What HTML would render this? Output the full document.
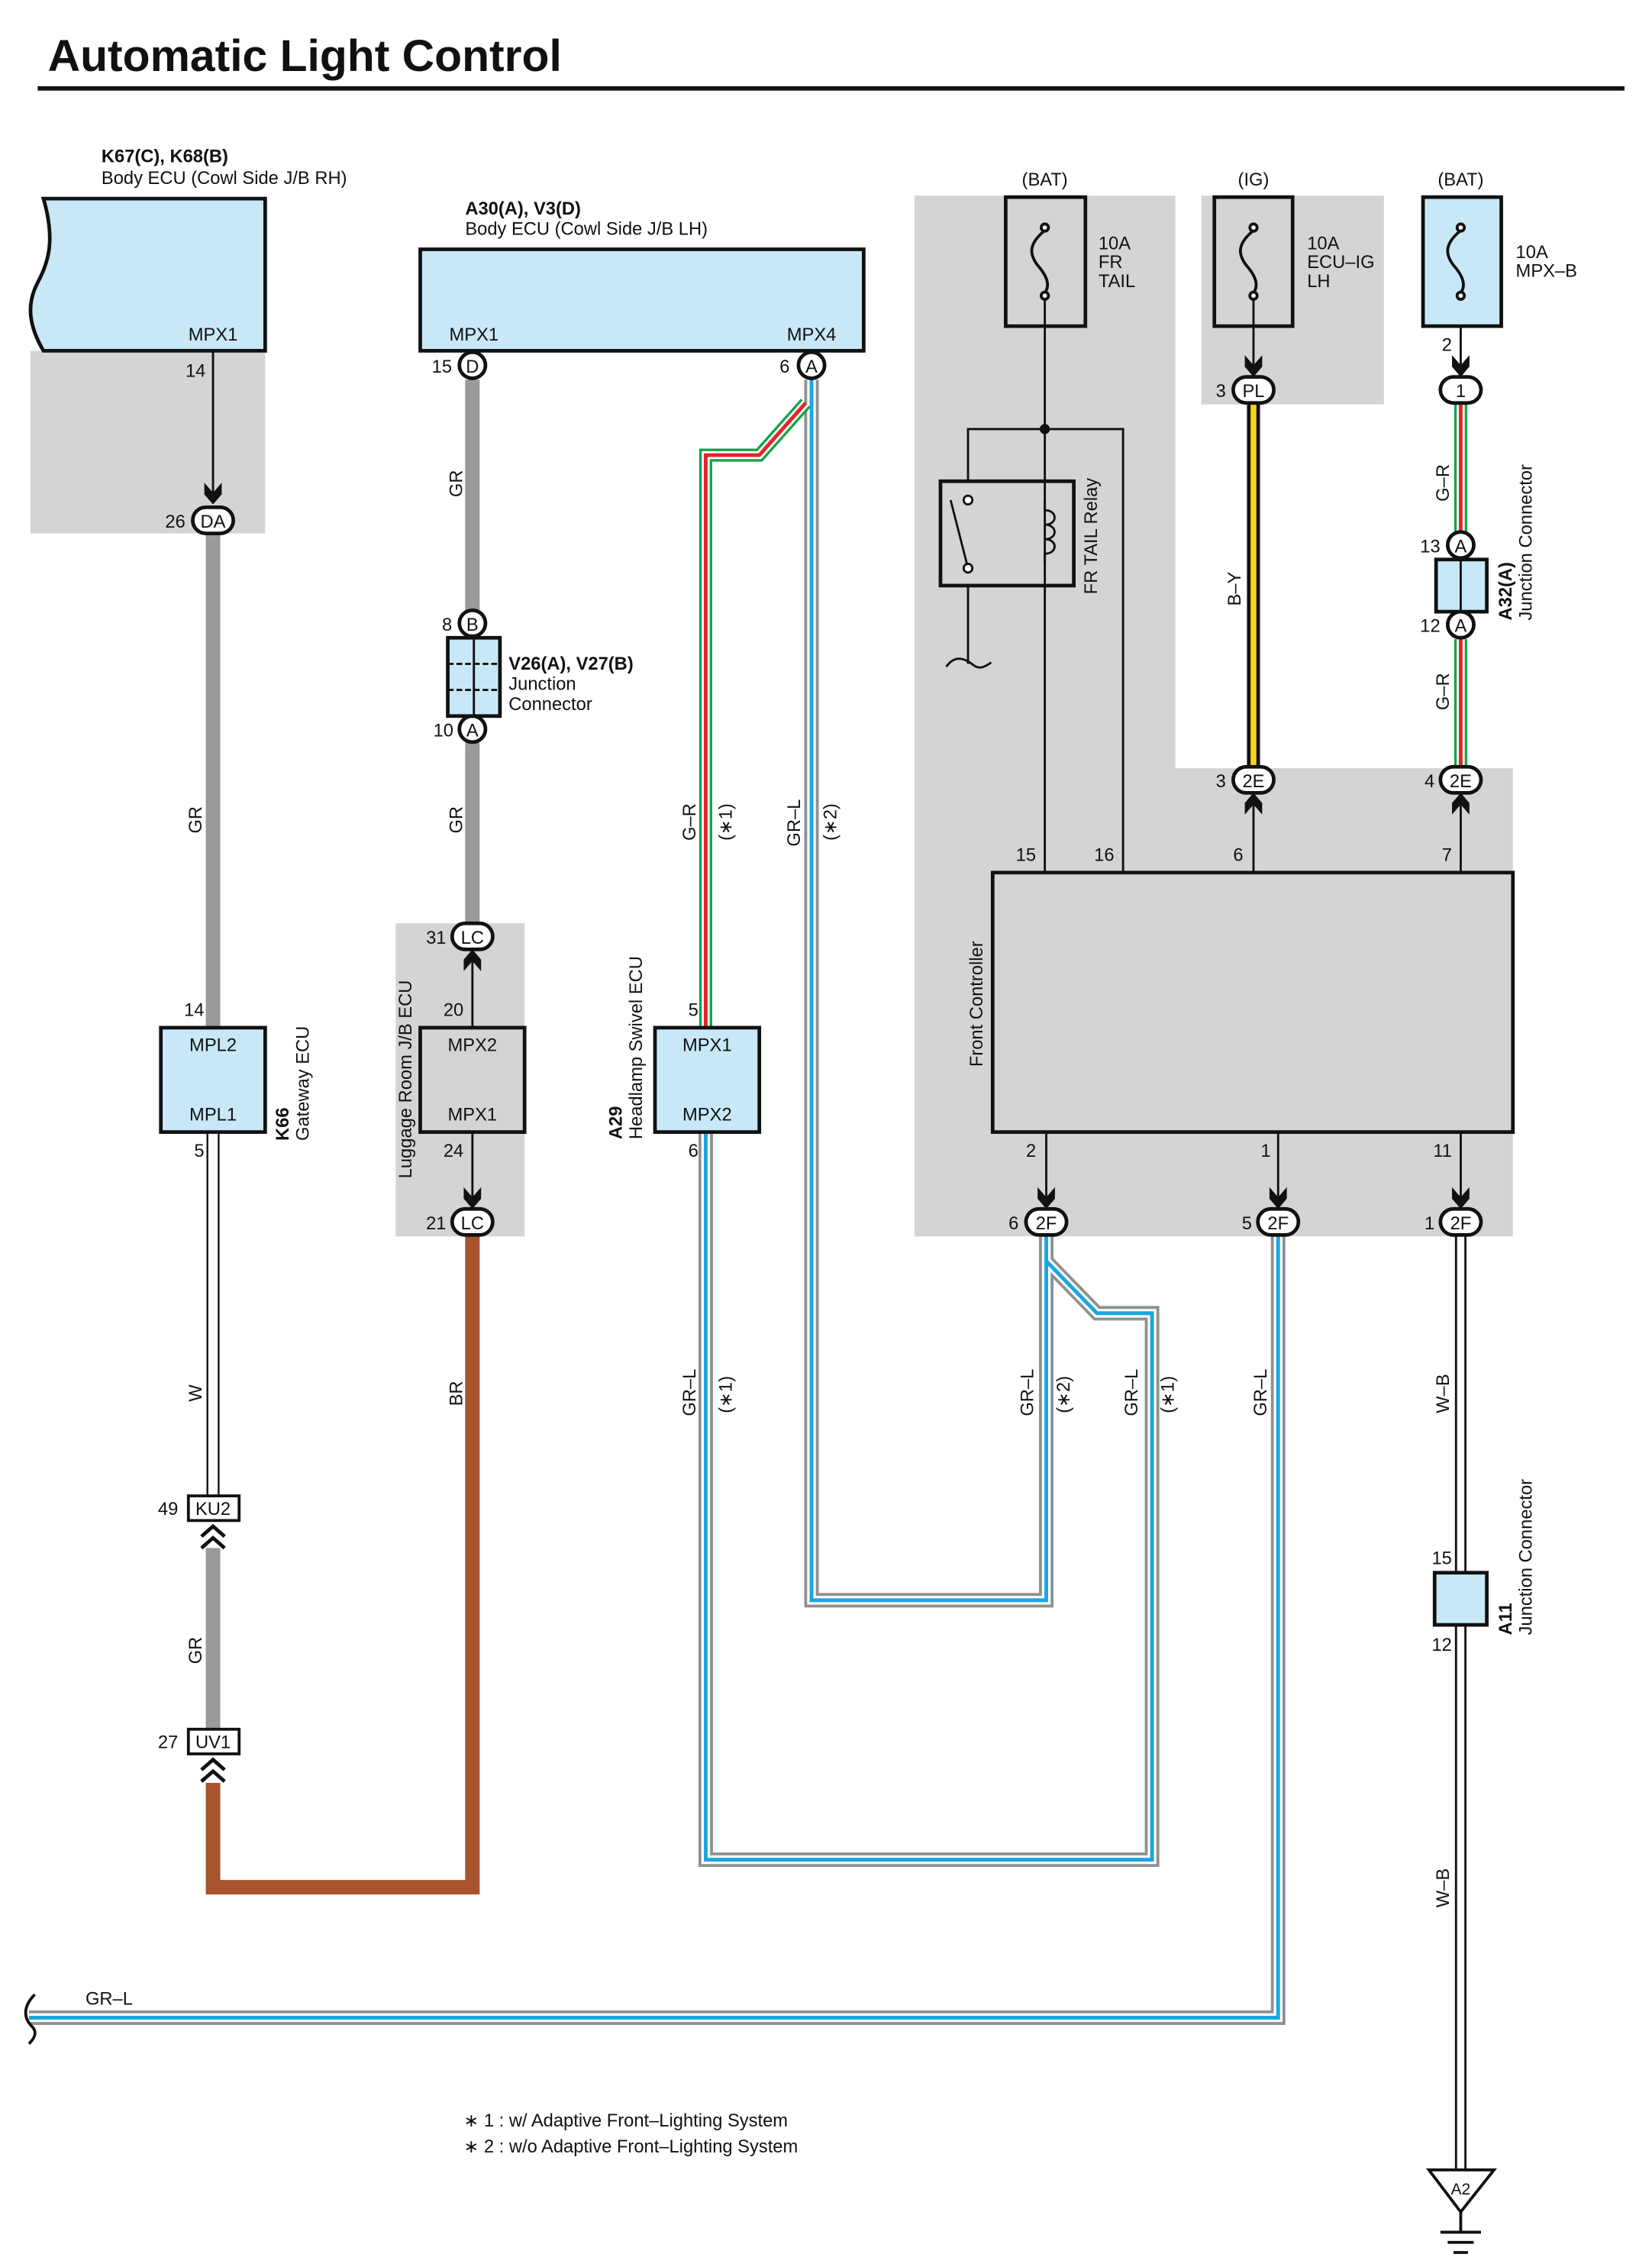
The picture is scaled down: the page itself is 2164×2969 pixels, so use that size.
<!DOCTYPE html>
<html><head><meta charset="utf-8"><style>
html,body{margin:0;padding:0;background:#fff}
svg{display:block}
text{font-family:"Liberation Sans",sans-serif;font-size:12.5px;fill:#111}
.b{font-weight:bold}
</style></head><body>
<svg width="2164" height="2969" viewBox="0 0 1140 1564" preserveAspectRatio="none" xmlns="http://www.w3.org/2000/svg">
<text x="33" y="49" style="font-size:31px;font-weight:bold">Automatic Light Control</text>
<rect x="26" y="59.5" width="1095" height="3" fill="#111"/>

<g fill="#d3d4d6">
<rect x="21" y="242" width="162" height="126"/>
<rect x="273" y="637" width="89" height="216"/>
<rect x="631" y="135" width="180" height="718"/>
<rect x="811" y="530" width="233" height="323"/>
<rect x="829" y="135" width="126" height="144"/>
</g>

<text x="70" y="112" class="b">K67(C), K68(B)</text>
<text x="70" y="127">Body ECU (Cowl Side J/B RH)</text>
<path d="M30 137 H183 V242 H30 C20 225 18 210 26 195 C34 180 38 165 30 137 Z" fill="#c8e8f8" stroke="#111" stroke-width="2.5"/>
<text x="130" y="235">MPX1</text>
<text x="128" y="260">14</text>
<line x1="147" y1="242" x2="147" y2="345" stroke="#111" stroke-width="1.5"/>

<text x="321" y="148" class="b">A30(A), V3(D)</text>
<text x="321" y="162">Body ECU (Cowl Side J/B LH)</text>
<rect x="290" y="172" width="306" height="70" fill="#c8e8f8" stroke="#111" stroke-width="2.5"/>
<text x="310" y="235">MPX1</text>
<text x="543" y="235">MPX4</text>

<g stroke="#999a9c" stroke-width="10" fill="none">
<line x1="147" y1="368" x2="147" y2="709"/>
<line x1="147" y1="1068" x2="147" y2="1193"/>
<line x1="326" y1="262" x2="326" y2="422"/>
<line x1="326" y1="512" x2="326" y2="637"/>
</g>
<path d="M147 1230 V1302 H326 V853" stroke="#a9532f" stroke-width="10" fill="none"/>
<line x1="147" y1="781" x2="147" y2="1032" stroke="#111" stroke-width="9"/>
<line x1="147" y1="781" x2="147" y2="1032" stroke="#fff" stroke-width="6.5"/>

<g fill="none" stroke-linejoin="miter">
<g stroke="#8f9092" stroke-width="10">
<path d="M560 262 V1104 H722 V853"/>
<path d="M487 781 V1283 H795 V906 H757 L722 870"/>
<path d="M882 853 V1392 H20"/>
</g>
<g stroke="#fff" stroke-width="6">
<path d="M560 262 V1104 H722 V853"/>
<path d="M487 781 V1283 H795 V906 H757 L722 870"/>
<path d="M882 853 V1392 H20"/>
</g>
<g stroke="#1aa7e0" stroke-width="2.6">
<path d="M560 262 V1104 H722 V853"/>
<path d="M487 781 V1283 H795 V906 H757 L722 870"/>
<path d="M882 853 V1392 H20"/>
</g>
<g stroke="#16a34a" stroke-width="9"><path d="M556 278 L524 314 H487 V709"/><path d="M1008 279 V367"/><path d="M1008 441 V530"/></g>
<g stroke="#fff" stroke-width="5.5"><path d="M556 278 L524 314 H487 V709"/><path d="M1008 279 V367"/><path d="M1008 441 V530"/></g>
<g stroke="#e0262b" stroke-width="2.6"><path d="M556 278 L524 314 H487 V709"/><path d="M1008 279 V367"/><path d="M1008 441 V530"/></g>
<line x1="865" y1="279" x2="865" y2="530" stroke="#111" stroke-width="9"/>
<line x1="865" y1="279" x2="865" y2="530" stroke="#f7d417" stroke-width="4"/>
<line x1="1008" y1="853" x2="1008" y2="1497" stroke="#111" stroke-width="8"/>
<line x1="1008" y1="853" x2="1008" y2="1497" stroke="#fff" stroke-width="5"/>
</g>
<path d="M24 1376 C16 1384 16 1392 22 1398 C26 1402 24 1406 20 1410" stroke="#111" stroke-width="2" fill="none"/>

<g>
<text transform="translate(139,575) rotate(-90)">GR</text>
<text transform="translate(139,967) rotate(-90)">W</text>
<text transform="translate(139,1148) rotate(-90)">GR</text>
<text transform="translate(319,343) rotate(-90)">GR</text>
<text transform="translate(319,575) rotate(-90)">GR</text>
<text transform="translate(319,970) rotate(-90)">BR</text>
<text transform="translate(480,580) rotate(-90)">G–R</text>
<text transform="translate(505,580) rotate(-90)">(∗1)</text>
<text transform="translate(552,584) rotate(-90)">GR–L</text>
<text transform="translate(577,580) rotate(-90)">(∗2)</text>
<text transform="translate(480,977) rotate(-90)">GR–L</text>
<text transform="translate(505,975) rotate(-90)">(∗1)</text>
<text transform="translate(713,977) rotate(-90)">GR–L</text>
<text transform="translate(738,975) rotate(-90)">(∗2)</text>
<text transform="translate(785,977) rotate(-90)">GR–L</text>
<text transform="translate(810,975) rotate(-90)">(∗1)</text>
<text transform="translate(874,977) rotate(-90)">GR–L</text>
<text transform="translate(856,418) rotate(-90)">B–Y</text>
<text transform="translate(1000,346) rotate(-90)">G–R</text>
<text transform="translate(1000,490) rotate(-90)">G–R</text>
<text transform="translate(1000,975) rotate(-90)">W–B</text>
<text transform="translate(1000,1316) rotate(-90)">W–B</text>
<text x="59" y="1383">GR–L</text>
</g>

<g fill="#111">
<path d="M141 333 L147 340 L153 333 L153 341 L147 348 L141 341 Z"/>
<path d="M859 245 L865 252 L871 245 L871 253 L865 260 L859 253 Z"/>
<path d="M1002 245 L1008 252 L1014 245 L1014 253 L1008 260 L1002 253 Z"/>
<path d="M320 819 L326 826 L332 819 L332 827 L326 834 L320 827 Z"/>
<path d="M716 819 L722 826 L728 819 L728 827 L722 834 L716 827 Z"/>
<path d="M876 819 L882 826 L888 819 L888 827 L882 834 L876 827 Z"/>
<path d="M1002 819 L1008 826 L1014 819 L1014 827 L1008 834 L1002 827 Z"/>
<path d="M320 670 L326 663 L332 670 L332 662 L326 655 L320 662 Z"/>
<path d="M859 562 L865 555 L871 562 L871 554 L865 547 L859 554 Z"/>
<path d="M1002 562 L1008 555 L1014 562 L1014 554 L1008 547 L1002 554 Z"/>
</g>
<g stroke="#111" stroke-width="1.5">
<line x1="326" y1="781" x2="326" y2="826"/>
<line x1="326" y1="663" x2="326" y2="709"/>
<line x1="722" y1="781" x2="722" y2="826"/>
<line x1="882" y1="781" x2="882" y2="826"/>
<line x1="1008" y1="781" x2="1008" y2="826"/>
<line x1="865" y1="555" x2="865" y2="602"/>
<line x1="1008" y1="555" x2="1008" y2="602"/>
<line x1="865" y1="206" x2="865" y2="252"/>
<line x1="1008" y1="206" x2="1008" y2="252"/>
</g>

<g fill="#fff" stroke="#111" stroke-width="2.5">
<rect x="133" y="350" width="28" height="18" rx="9"/>
<rect x="312" y="637" width="28" height="18" rx="9"/>
<rect x="312" y="834" width="28" height="18" rx="9"/>
<rect x="851" y="260" width="28" height="18" rx="9"/>
<rect x="994" y="260" width="28" height="18" rx="9"/>
<rect x="851" y="529" width="28" height="18" rx="9"/>
<rect x="994" y="529" width="28" height="18" rx="9"/>
<rect x="708" y="834" width="28" height="18" rx="9"/>
<rect x="868" y="834" width="28" height="18" rx="9"/>
<rect x="994" y="834" width="28" height="18" rx="9"/>
<circle cx="326" cy="252" r="9"/>
<circle cx="560" cy="252" r="9"/>
<circle cx="326" cy="430" r="9"/>
<circle cx="326" cy="503" r="9"/>
<circle cx="1008" cy="376" r="9"/>
<circle cx="1008" cy="431" r="9"/>
</g>
<g text-anchor="middle">
<text x="147" y="364">DA</text>
<text x="326" y="651">LC</text>
<text x="326" y="848">LC</text>
<text x="865" y="274">PL</text>
<text x="1008" y="274">1</text>
<text x="865" y="543">2E</text>
<text x="1008" y="543">2E</text>
<text x="722" y="848">2F</text>
<text x="882" y="848">2F</text>
<text x="1008" y="848">2F</text>
<text x="326" y="257">D</text>
<text x="560" y="257">A</text>
<text x="326" y="435">B</text>
<text x="326" y="508">A</text>
<text x="1008" y="381">A</text>
<text x="1008" y="436">A</text>
</g>
<text x="114" y="364">26</text>
<text x="298" y="257">15</text>
<text x="538" y="257">6</text>
<text x="305" y="435">8</text>
<text x="299" y="508">10</text>
<text x="294" y="651">31</text>
<text x="306" y="701">20</text>
<text x="306" y="798">24</text>
<text x="294" y="848">21</text>
<text x="127" y="701">14</text>
<text x="134" y="798">5</text>
<text x="475" y="701">5</text>
<text x="475" y="798">6</text>
<text x="839" y="274">3</text>
<text x="995" y="242">2</text>
<text x="980" y="381">13</text>
<text x="980" y="436">12</text>
<text x="839" y="543">3</text>
<text x="983" y="543">4</text>
<text x="701" y="594">15</text>
<text x="755" y="594">16</text>
<text x="851" y="594">6</text>
<text x="995" y="594">7</text>
<text x="708" y="798">2</text>
<text x="870" y="798">1</text>
<text x="989" y="798">11</text>
<text x="696" y="848">6</text>
<text x="857" y="848">5</text>
<text x="983" y="848">1</text>
<text x="988" y="1079">15</text>
<text x="988" y="1139">12</text>
<text x="109" y="1045">49</text>
<text x="109" y="1206">27</text>

<rect x="309" y="440" width="36" height="54" fill="#c8e8f8" stroke="#111" stroke-width="2.5"/>
<g stroke="#111" stroke-width="1.5"><line x1="327" y1="440" x2="327" y2="494"/><line x1="309" y1="458" x2="345" y2="458" stroke-dasharray="4 2"/><line x1="309" y1="476" x2="345" y2="476" stroke-dasharray="4 2"/></g>
<text x="351" y="462" class="b">V26(A), V27(B)</text>
<text x="351" y="476">Junction</text>
<text x="351" y="490">Connector</text>

<rect x="111" y="709" width="72" height="72" fill="#c8e8f8" stroke="#111" stroke-width="2.5"/>
<text x="147" y="725" text-anchor="middle">MPL2</text>
<text x="147" y="773" text-anchor="middle">MPL1</text>
<text transform="translate(199,787) rotate(-90)" class="b">K66</text>
<text transform="translate(213,787) rotate(-90)">Gateway ECU</text>

<rect x="130" y="1032" width="35" height="17" fill="#fff" stroke="#111" stroke-width="2"/>
<text x="147" y="1045" text-anchor="middle">KU2</text>
<rect x="130" y="1193" width="35" height="17" fill="#fff" stroke="#111" stroke-width="2"/>
<text x="147" y="1206" text-anchor="middle">UV1</text>
<g fill="none" stroke="#111" stroke-width="2.5">
<path d="M139 1060 L147 1053 L155 1060 M139 1068 L147 1061 L155 1068"/>
<path d="M139 1221 L147 1214 L155 1221 M139 1229 L147 1222 L155 1229"/>
</g>

<rect x="290" y="709" width="72" height="72" fill="#d3d4d6" stroke="#111" stroke-width="2.5"/>
<text x="326" y="725" text-anchor="middle">MPX2</text>
<text x="326" y="773" text-anchor="middle">MPX1</text>
<text transform="translate(284,813) rotate(-90)">Luggage Room J/B ECU</text>

<rect x="452" y="709" width="72" height="72" fill="#c8e8f8" stroke="#111" stroke-width="2.5"/>
<text x="488" y="725" text-anchor="middle">MPX1</text>
<text x="488" y="773" text-anchor="middle">MPX2</text>
<text transform="translate(429,786) rotate(-90)" class="b">A29</text>
<text transform="translate(443,786) rotate(-90)">Headlamp Swivel ECU</text>

<text x="721" y="128" text-anchor="middle">(BAT)</text>
<text x="865" y="128" text-anchor="middle">(IG)</text>
<text x="1008" y="128" text-anchor="middle">(BAT)</text>
<rect x="694" y="136" width="55" height="89" fill="none" stroke="#111" stroke-width="2.5"/>
<rect x="838" y="136" width="54" height="89" fill="none" stroke="#111" stroke-width="2.5"/>
<rect x="982" y="136" width="54" height="89" fill="#c8e8f8" stroke="#111" stroke-width="2.5"/>
<g fill="none" stroke="#111" stroke-width="2">
<path d="M721 159 C710 168 710 175 716 183 C724 192 724 198 721 202"/>
<circle cx="721" cy="157" r="2.5" fill="#fff"/><circle cx="721" cy="204" r="2.5" fill="#fff"/>
<path d="M865 159 C854 168 854 175 860 183 C868 192 868 198 865 202"/>
<circle cx="865" cy="157" r="2.5" fill="#fff"/><circle cx="865" cy="204" r="2.5" fill="#fff"/>
<path d="M1008 159 C997 168 997 175 1003 183 C1011 192 1011 198 1008 202"/>
<circle cx="1008" cy="157" r="2.5" fill="#fff"/><circle cx="1008" cy="204" r="2.5" fill="#fff"/>
</g>
<text x="758" y="172">10A</text><text x="758" y="185">FR</text><text x="758" y="198">TAIL</text>
<text x="902" y="172">10A</text><text x="902" y="185">ECU–IG</text><text x="902" y="198">LH</text>
<text x="1046" y="178">10A</text><text x="1046" y="191">MPX–B</text>

<g fill="none" stroke="#111" stroke-width="1.5">
<line x1="721" y1="207" x2="721" y2="602"/>
<path d="M668 332 V296 H775 V602"/>
<line x1="668" y1="404" x2="668" y2="458"/>
<path d="M653 460 C660 450 668 456 672 459 C676 462 680 460 684 457"/>
<line x1="656" y1="345" x2="668" y2="392"/>
<path d="M721 345 V352 C730 352 730 362 721 362 C730 362 730 372 721 372 C730 372 730 382 721 382 V390"/>
</g>
<rect x="649" y="332" width="92" height="72" fill="none" stroke="#111" stroke-width="2.5"/>
<circle cx="668" cy="345" r="3" fill="#fff" stroke="#111" stroke-width="1.5"/>
<circle cx="668" cy="392" r="3" fill="#fff" stroke="#111" stroke-width="1.5"/>
<circle cx="721" cy="296" r="3.5" fill="#111"/>
<text transform="translate(757,410) rotate(-90)">FR TAIL Relay</text>

<rect x="991" y="386" width="35" height="36" fill="#c8e8f8" stroke="#111" stroke-width="2.5"/>
<line x1="1008" y1="386" x2="1008" y2="422" stroke="#111" stroke-width="1.5"/>
<text transform="translate(1043,428) rotate(-90)" class="b">A32(A)</text>
<text transform="translate(1057,428) rotate(-90)">Junction Connector</text>

<rect x="685" y="602" width="359" height="179" fill="#d3d4d6" stroke="#111" stroke-width="2.5"/>
<text transform="translate(678,736) rotate(-90)">Front Controller</text>

<rect x="990" y="1085" width="36" height="36" fill="#c8e8f8" stroke="#111" stroke-width="2.5"/>
<text transform="translate(1043,1128) rotate(-90)" class="b">A11</text>
<text transform="translate(1057,1128) rotate(-90)">Junction Connector</text>

<path d="M986 1497 H1031 L1008 1526 Z" fill="#fff" stroke="#111" stroke-width="2"/>
<text x="1008" y="1514" text-anchor="middle" style="font-size:11px">A2</text>
<g stroke="#111" stroke-width="2">
<line x1="1008" y1="1526" x2="1008" y2="1540"/>
<line x1="994" y1="1540" x2="1022" y2="1540"/>
<line x1="999" y1="1547" x2="1017" y2="1547"/>
<line x1="1003" y1="1554" x2="1013" y2="1554"/>
</g>

<text x="320" y="1467">∗ 1 : w/ Adaptive Front–Lighting System</text>
<text x="320" y="1485">∗ 2 : w/o Adaptive Front–Lighting System</text>
</svg>
</body></html>
